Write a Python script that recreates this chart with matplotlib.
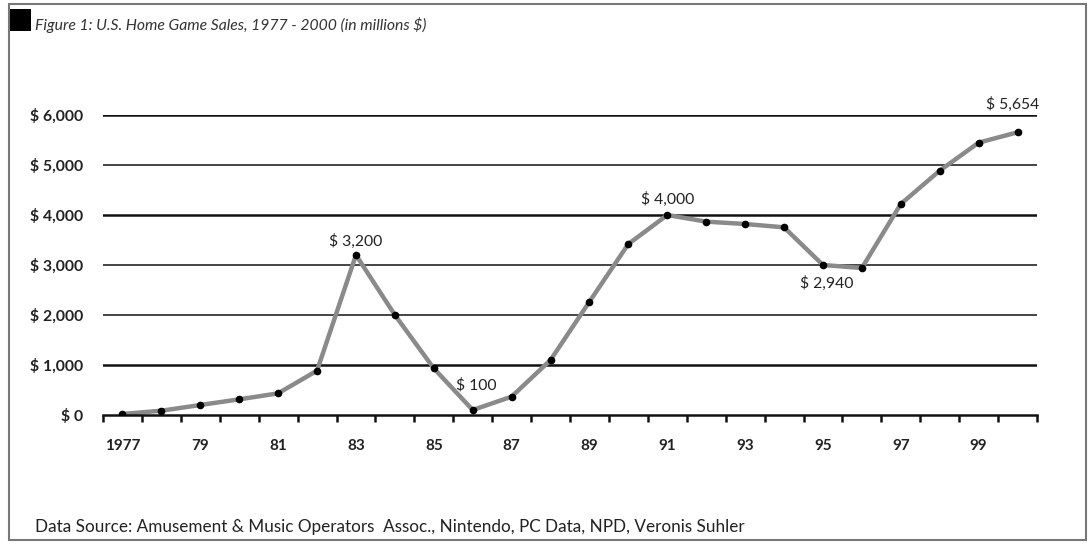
import numpy as np
import matplotlib
matplotlib.use("Agg")
import matplotlib.pyplot as plt
from matplotlib.patches import Rectangle

# Datos (millones de $)
years = list(range(1977, 2001))
sales = [20, 86, 200, 313, 433, 887, 3200, 2000, 933, 100, 367, 1100,
         2267, 3420, 4000, 3867, 3820, 3753, 3000, 2940, 4220, 4887, 5447, 5654]
tick_years = [1977, 1979, 1981, 1983, 1985, 1987, 1989, 1991, 1993, 1995, 1997, 1999]
tick_labels = ["1977", "79", "81", "83", "85", "87", "89", "91", "93", "95", "97", "99"]
y_ticks = [0, 1000, 2000, 3000, 4000, 5000, 6000]
y_labels = ["$ 0", "$ 1,000", "$ 2,000", "$ 3,000", "$ 4,000", "$ 5,000", "$ 6,000"]
notes = {1983: "$ 3,200", 1986: "$ 100", 1991: "$ 4,000", 1996: "$ 2,940", 2000: "$ 5,654"}

plt.rcParams['font.family'] = ['Lato', 'DejaVu Sans']

fig = plt.figure(figsize=(10.92, 5.54), dpi=100)
fig.patch.set_facecolor('white')

# marco y cuadrado negro
fig.patches.append(Rectangle((9/1092, 1 - 540/554), 1077/1092, 536/554, transform=fig.transFigure,
                             fill=False, edgecolor='#777777', linewidth=1.5))
fig.patches.append(Rectangle((10/1092, 1 - 31/554), 21/1092, 22/554, transform=fig.transFigure,
                             facecolor='black', edgecolor='none'))
fig.text(35/1092, 1 - 25/554, "Figure 1: U.S. Home Game Sales, 1977 - 2000 (in millions $)",
         fontsize=11.3, style='italic', color='#333333', va='center', ha='left')
fig.text(35/1092, 1 - 527/554,
         "Data Source: Amusement & Music Operators  Assoc., Nintendo, PC Data, NPD, Veronis Suhler",
         fontsize=12.3, color='#222222', va='center', ha='left')

ax = fig.add_axes([103/1092, 1 - 415/554, 934/1092, 300/554])
ax.set_xlim(1976.5, 2000.5)
ax.set_ylim(0, 6000)

for v in y_ticks[1:]:
    dark = v in (1000, 4000, 6000)
    ax.axhline(v, color='#111111' if dark else '#444444', lw=1.8 if dark else 1.4, zorder=1)

ax.plot(years, sales, color='#8a8a8a', lw=3.2, zorder=2, solid_joinstyle='round')
ax.plot(years, sales, 'o', color='black', ms=4.5, zorder=3)

offsets = {1983: (0, 14), 1986: (4, 25), 1991: (0, 16), 1996: (-35, -15), 2000: (-5, 28)}
for yr, txt in notes.items():
    val = sales[years.index(yr)]
    dx, dy = offsets[yr]
    ax.annotate(txt, (yr, val), xytext=(dx, dy), textcoords='offset pixels',
                ha='center', va='center', fontsize=11.3, color='#222222', annotation_clip=False)

for s in ['top', 'right', 'left']:
    ax.spines[s].set_visible(False)
ax.spines['bottom'].set_color('#111111')
ax.spines['bottom'].set_linewidth(1.8)

ax.set_yticks(y_ticks)
ax.set_yticklabels(y_labels, fontsize=11.3, fontweight='bold', color='#222222')
ax.tick_params(axis='y', length=0, pad=14)

ax.set_xticks(tick_years)
ax.set_xticklabels(tick_labels, fontsize=11, fontweight='bold', color='#222222')
ax.tick_params(axis='x', which='major', length=0, pad=17)
ax.set_xticks(np.arange(1976.5, 2000.6, 1.0), minor=True)
ax.tick_params(axis='x', which='minor', length=5, width=1.8, color='#111111', direction='out')

fig.savefig("out.png", dpi=100, facecolor='white')
